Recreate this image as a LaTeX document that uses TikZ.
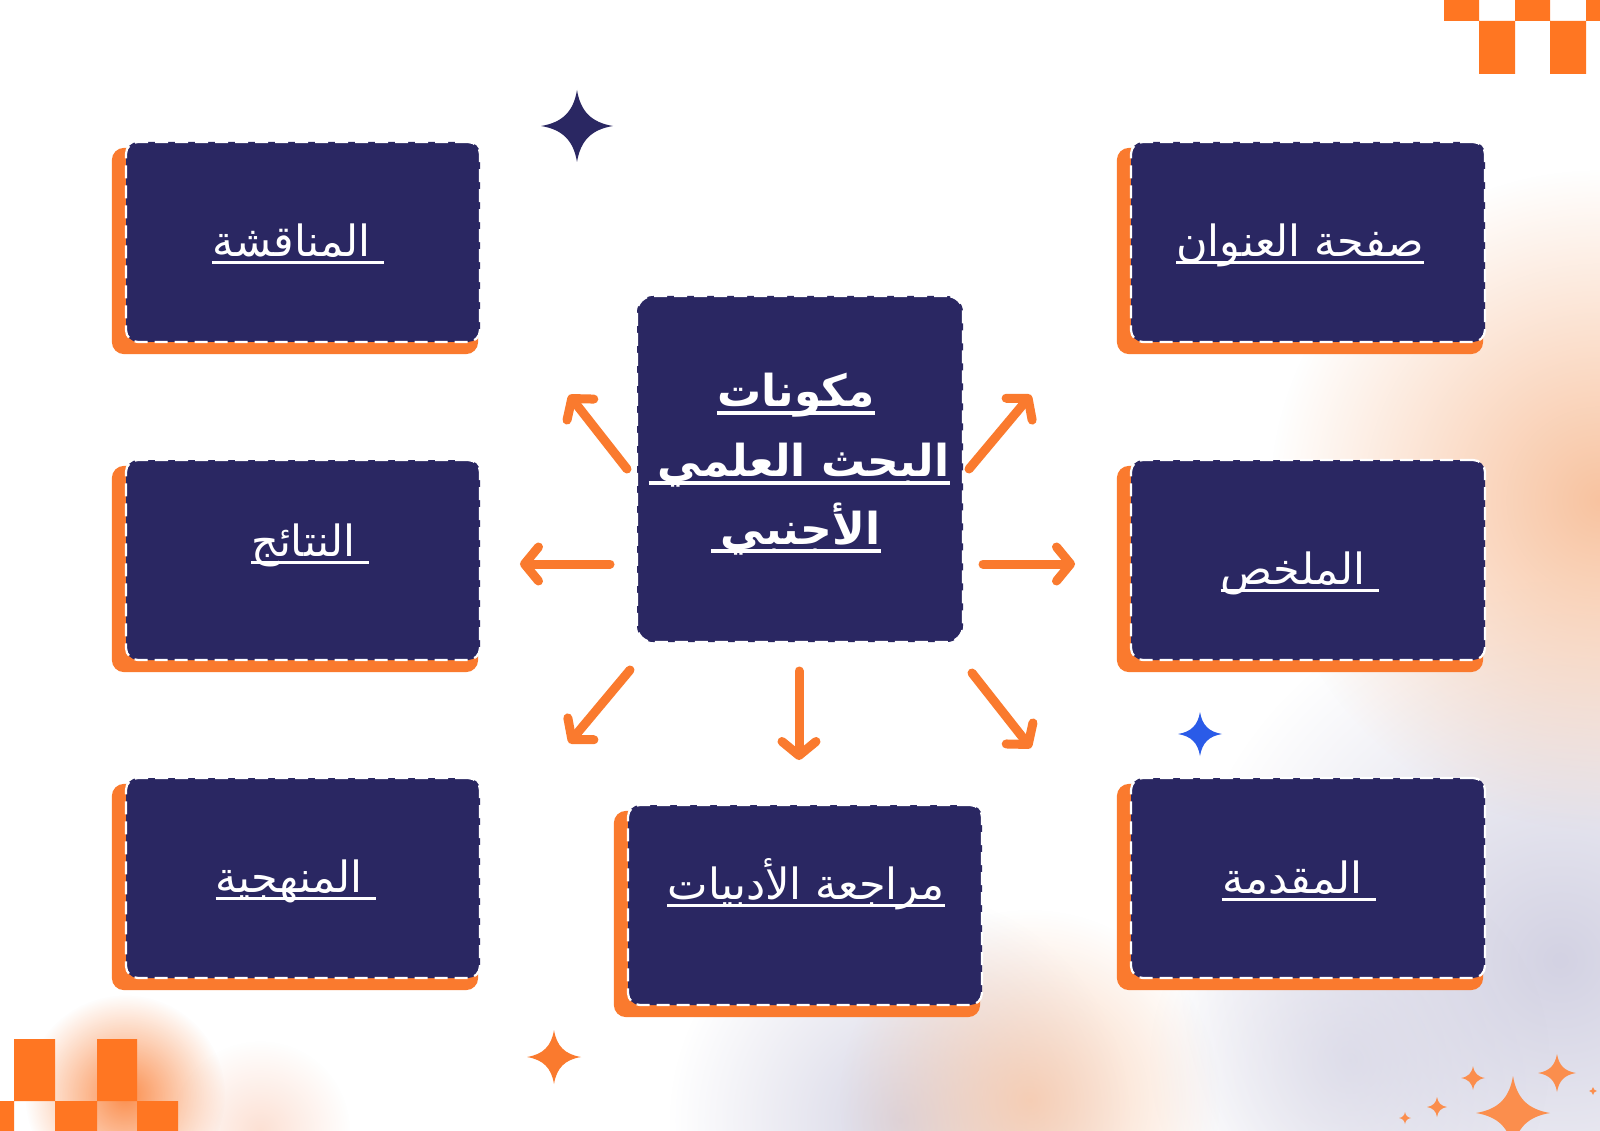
\documentclass[tikz,border=0pt]{standalone}
\usepackage{fontspec}
\newfontfamily\arabicfont[Script=Arabic]{DejaVu Sans}
\TeXXeTstate=1
\usetikzlibrary{arrows.meta,fadings,calc}
\definecolor{navy}{HTML}{2A2762}
\definecolor{orng}{HTML}{FA7A2E}
\definecolor{chk}{HTML}{FF7622}
\definecolor{peach}{HTML}{F8C3A0}
\definecolor{lav}{HTML}{D3D2E3}
\definecolor{sblue}{HTML}{2A5BE8}
\tikzfading[name=glowfade, inner color=transparent!0, outer color=transparent!100]
\pgfdeclarelayer{glowlayer}
\pgfdeclarelayer{shadowlayer}
\pgfsetlayers{glowlayer,shadowlayer,main}
\newcommand\sparkle[4]{\fill[#4,shift={(#1,#2)},scale=#3] (0,-1) .. controls (0.1,-0.4) and (0.4,-0.1) .. (1,0) .. controls (0.4,0.1) and (0.1,0.4) .. (0,1) .. controls (-0.1,0.4) and (-0.4,0.1) .. (-1,0) .. controls (-0.4,-0.1) and (-0.1,-0.4) .. cycle;}
\tikzset{
  box/.style={fill=navy, draw=white, line width=2.2pt, dash pattern=on 13pt off 7pt, rounded corners=12pt, inner sep=0pt},
  wide/.style={minimum width=354pt, minimum height=200pt},
  shad/.style={fill=orng, rounded corners=12pt},
  lbl/.style={text=white, inner sep=0pt, anchor=base, font=\arabicfont\fontsize{43}{48}\selectfont},
  corelbl/.style={text=white, inner sep=0pt, anchor=base, font=\arabicfont\bfseries\fontsize{44}{50}\selectfont},
  ul/.style={draw=white, line width=3pt},
  ulb/.style={draw=white, line width=4pt},
  arr/.style={draw=orng, line width=9pt, line cap=round, -{Straight Barb[length=14pt,width=34pt,line cap=round,line join=round]}},
}
\begin{document}
\begin{tikzpicture}[x=1pt,y=-1pt]
\useasboundingbox (0,0) rectangle (1600,1131);
\begin{pgfonlayer}{glowlayer}
\fill[white] (0,0) rectangle (1600,1131);
\begin{scope}
\clip (0,0) rectangle (1600,1131);
\fill[lav, path fading=glowfade] (1560,960) circle (380pt);
\fill[peach, path fading=glowfade] (1600,500) circle (330pt);
\fill[lav, path fading=glowfade, fill opacity=0.9] (900,1120) circle (230pt);
\fill[peach, path fading=glowfade, fill opacity=0.75] (1030,1100) circle (190pt);
\fill[lav, path fading=glowfade, fill opacity=0.6] (1350,1060) circle (200pt);
\fill[orng, path fading=glowfade, fill opacity=0.85] (125,1095) circle (100pt);
\fill[peach!70!pink, path fading=glowfade, fill opacity=0.5] (260,1131) circle (90pt);
\end{scope}
% checkers
\fill[chk] (1444,0) rectangle (1479,21) (1515,0) rectangle (1550,21) (1586,0) rectangle (1600,21)
  (1479,21) rectangle (1515,74) (1550,21) rectangle (1586,74);
\fill[chk] (14,1039) rectangle (55,1101) (97,1039) rectangle (137,1101)
  (0,1101) rectangle (14,1131) (55,1101) rectangle (97,1131) (137,1101) rectangle (178,1131);
\end{pgfonlayer}

% boxes
\node[box, wide] (dis) at (303,242) {};
\node[box, wide] (tit) at (1308,242) {};
\node[box, wide] (res) at (303,560) {};
\node[box, wide] (abs) at (1308,560) {};
\node[box, wide] (met) at (303,878) {};
\node[box, wide] (intro) at (1308,878) {};
\node[box, wide] (lit) at (805,905) {};
\node[box, minimum width=326pt, minimum height=346pt, rounded corners=16pt] (core) at (800,469) {};

\begin{pgfonlayer}{shadowlayer}
\foreach \b in {dis,tit,res,abs,met,intro,lit}
  \fill[shad] ([shift={(-13pt,-7pt)}]\b.north west) rectangle ([shift={(-3pt,-11pt)}]\b.south east);
\end{pgfonlayer}

% labels
\node[lbl] (tdis) at (298,257) {\beginR\ المناقشة\endR};
\node[lbl] (ttit) at (1300,257) {\beginR صفحة العنوان\endR};
\node[lbl] (tres) at (310,556) {\beginR\ النتائج\endR};
\node[lbl] (tabs) at (1300,584) {\beginR\ الملخص\endR};
\node[lbl] (tmet) at (296,892) {\beginR\ المنهجية\endR};
\node[lbl] (tint) at (1299,893) {\beginR\ المقدمة\endR};
\node[lbl] (tlit) at (806,899) {\beginR مراجعة الأدبيات\endR};
\foreach \n in {tdis,ttit,tres,tabs,tmet,tint,tlit}
  \draw[ul] ([yshift=-6pt]\n.base west) -- ([yshift=-6pt]\n.base east);

\node[corelbl] (c1) at (796,406) {\beginR مكونات\endR};
\node[corelbl] (c2) at (799,476) {\beginR البحث العلمي\kern9pt\endR};
\node[corelbl] (c3) at (796,544) {\beginR الأجنبي\kern9pt\endR};
\foreach \n in {c1,c2,c3}
  \draw[ulb] ([yshift=-7pt]\n.base west) -- ([yshift=-7pt]\n.base east);

% arrows
\coordinate (a1s) at (627,469); \coordinate (a1e) at (569,395);
\coordinate (a2s) at (969,469); \coordinate (a2e) at (1031,395);
\coordinate (a3s) at (610,564); \coordinate (a3e) at (520,564);
\coordinate (a4s) at (983,564); \coordinate (a4e) at (1075,564);
\coordinate (a5s) at (630,670); \coordinate (a5e) at (569,743);
\coordinate (a6s) at (799,671); \coordinate (a6e) at (799,760);
\coordinate (a7s) at (972,673); \coordinate (a7e) at (1031,748);
\foreach \i in {1,...,7}
  \draw[arr] (a\i s) -- (a\i e);

% sparkles
\sparkle{577}{126}{36}{navy}
\sparkle{1200}{734}{22}{sblue}
\sparkle{554}{1057}{27}{orng}
\sparkle{1513}{1113}{37}{orng!85}
\sparkle{1557}{1073}{19}{orng!85}
\sparkle{1473}{1078}{12}{orng!85}
\sparkle{1437}{1107}{10}{orng!85}
\sparkle{1405}{1118}{6}{orng!85}
\sparkle{1593}{1091}{4}{orng!85}
\end{tikzpicture}
\end{document}
